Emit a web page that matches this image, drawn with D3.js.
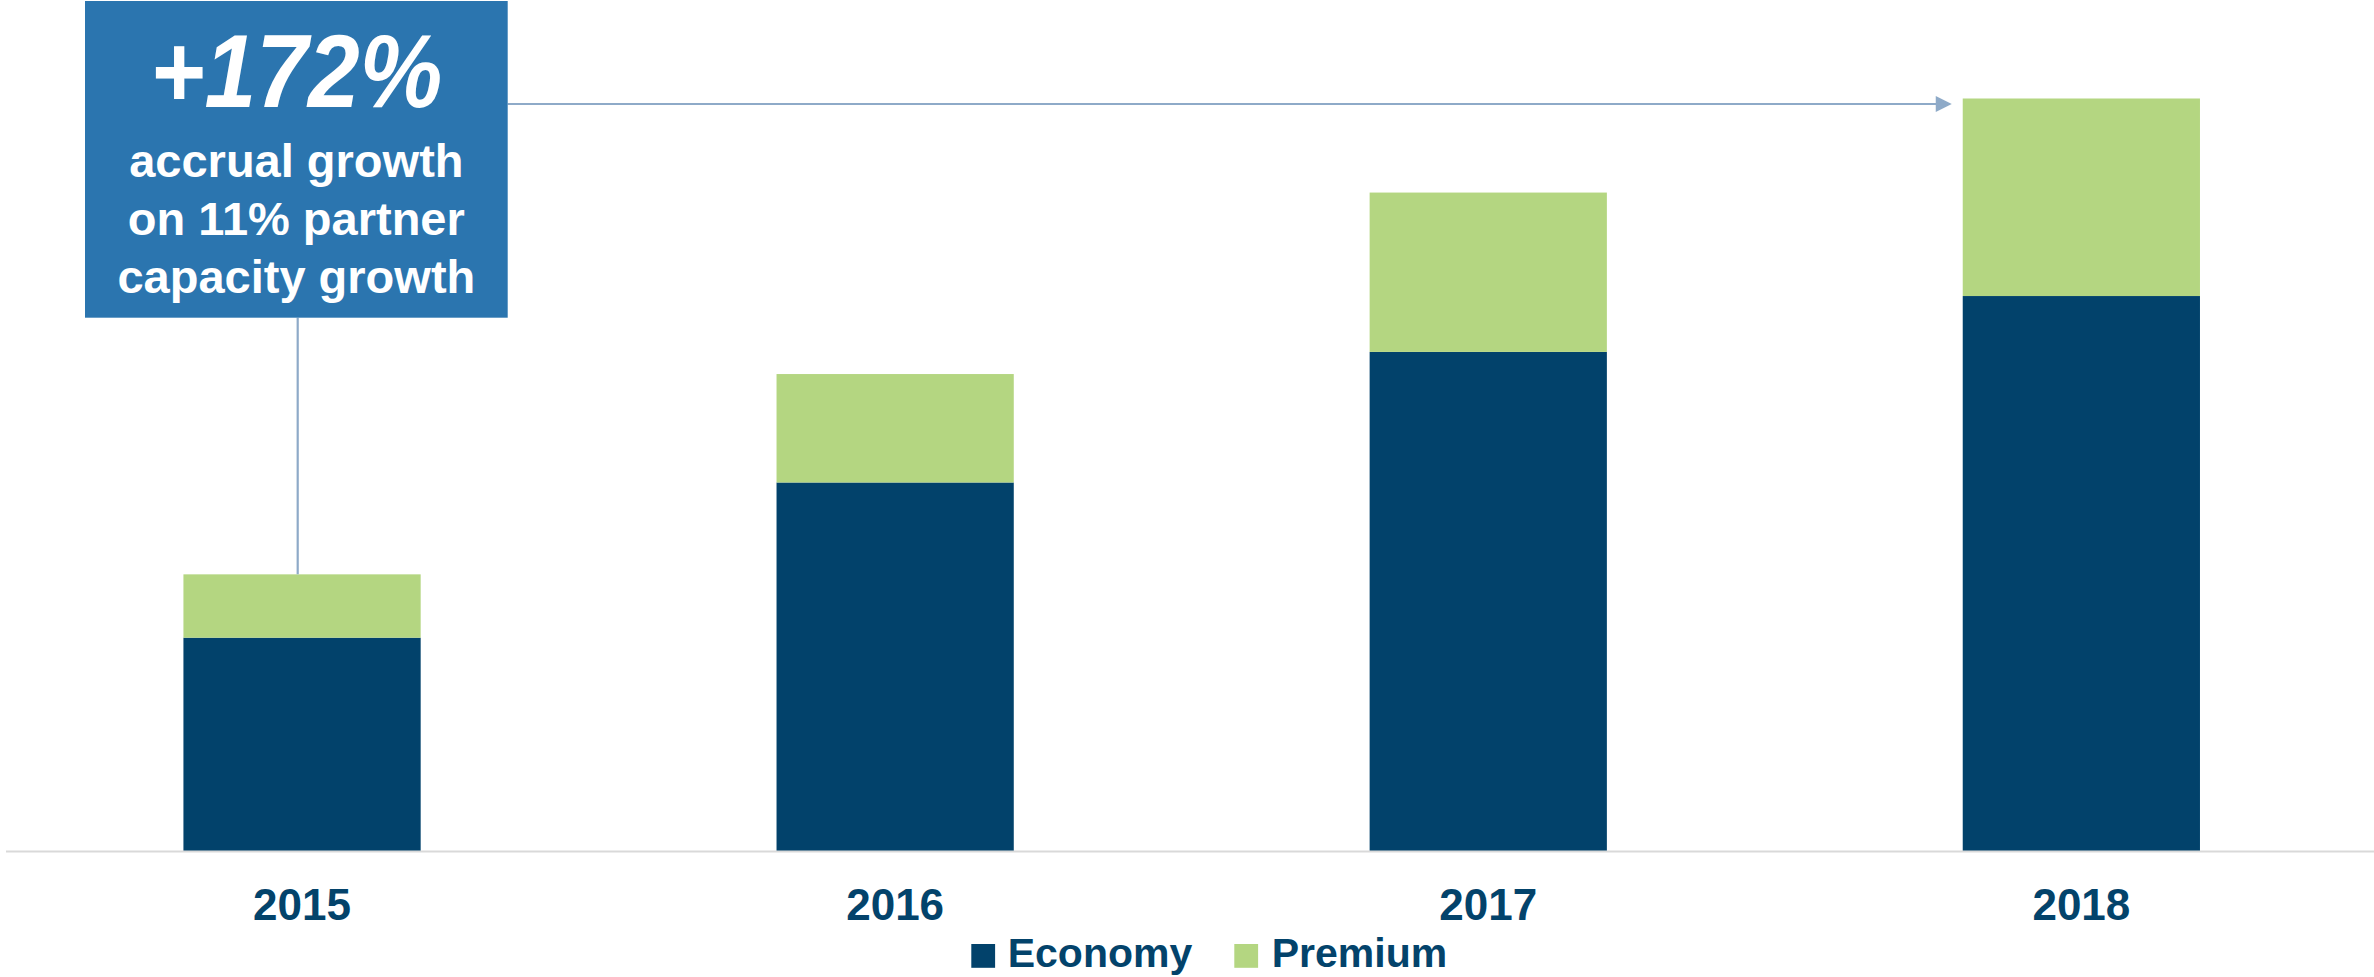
<!DOCTYPE html>
<html>
<head>
<meta charset="utf-8">
<script src="https://cdn.jsdelivr.net/npm/d3@7"></script>
<style>
  html, body { margin: 0; padding: 0; background: #ffffff; }
  svg { display: block; }
  text { font-family: "Liberation Sans", Arial, sans-serif; font-weight: 700; }
</style>
</head>
<body>
<svg id="chart" width="2374" height="977"></svg>
<script>
// Accruals by cabin, indexed to 2015 total = 100
const years = ["2015", "2016", "2017", "2018"];
const economy = [77.1, 133.2, 180.4, 200.6];
const premium = [22.9, 39.2, 57.6, 71.4];
const seriesNames = ["Economy", "Premium"];
const calloutLines = ["accrual growth", "on 11% partner", "capacity growth"];

const colors = { Economy: "#02426b", Premium: "#b4d681" };
const navy = "#03436b";
const calloutBlue = "#2b75af";
const guide = "#8eaac8";

const W = 2374, H = 977;
const baseY = 851;

const svg = d3.select("#chart");

const rows = years.map((yr, i) => ({ year: yr, Economy: economy[i], Premium: premium[i] }));
const totals = rows.map(r => r.Economy + r.Premium);

const x = d3.scaleBand()
  .domain(years)
  .range([5.5, 5.5 + 4 * 593.1])
  .paddingInner(0.6)
  .paddingOuter(0.3);

const y = d3.scaleLinear()
  .domain([0, d3.max(totals)])
  .range([baseY, 98.5]);

const stacked = d3.stack().keys(seriesNames)(rows);

// stacked bars
svg.append("g")
  .selectAll("g")
  .data(stacked)
  .join("g")
  .attr("fill", d => colors[d.key])
  .selectAll("rect")
  .data(d => d)
  .join("rect")
  .attr("x", d => x(d.data.year))
  .attr("width", x.bandwidth())
  .attr("y", d => y(d[1]))
  .attr("height", d => y(d[0]) - y(d[1]));

// baseline
svg.append("line")
  .attr("x1", 6).attr("x2", W)
  .attr("y1", baseY + 0.5).attr("y2", baseY + 0.5)
  .attr("stroke", "#d9d9d9")
  .attr("stroke-width", 2);

// category labels
const xAxis = d3.axisBottom(x).tickSize(0).tickPadding(0);
const axisG = svg.append("g")
  .attr("transform", `translate(0,${baseY})`)
  .call(xAxis);
axisG.select(".domain").remove();
axisG.selectAll("text")
  .attr("dy", null)
  .attr("y", 69)
  .attr("fill", navy)
  .style("font-size", "44px")
  .style("font-family", "'Liberation Sans', Arial, sans-serif")
  .style("font-weight", 700);

// callout: growth from first to last year
const growthPct = Math.round((totals[totals.length - 1] / totals[0] - 1) * 100);
const box = { x: 85, y: 1, w: 422.7, h: 316.7 };
const boxCx = box.x + box.w / 2;

// connector from callout down to the first bar
svg.append("line")
  .attr("x1", 297.7).attr("x2", 297.7)
  .attr("y1", box.y + box.h).attr("y2", y(totals[0]))
  .attr("stroke", guide)
  .attr("stroke-width", 2.2);

// arrow from callout to the last bar
const arrowY = 104;
const tipX = x(years[years.length - 1]) - 11;
svg.append("line")
  .attr("x1", box.x + box.w).attr("x2", tipX - 14)
  .attr("y1", arrowY).attr("y2", arrowY)
  .attr("stroke", guide)
  .attr("stroke-width", 2.2);
svg.append("path")
  .attr("d", `M${tipX - 16},${arrowY - 8} L${tipX},${arrowY} L${tipX - 16},${arrowY + 8} Z`)
  .attr("fill", guide);

svg.append("rect")
  .attr("x", box.x).attr("y", box.y)
  .attr("width", box.w).attr("height", box.h)
  .attr("fill", calloutBlue);

svg.append("text")
  .attr("x", boxCx)
  .attr("y", 106.7)
  .attr("text-anchor", "middle")
  .attr("fill", "#ffffff")
  .attr("textLength", 292)
  .attr("lengthAdjust", "spacingAndGlyphs")
  .style("font-size", "104px")
  .style("font-style", "italic")
  .text(`+${growthPct}%`);

svg.append("g")
  .selectAll("text")
  .data(calloutLines)
  .join("text")
  .attr("x", boxCx)
  .attr("y", (d, i) => 176.7 + i * 58.3)
  .attr("text-anchor", "middle")
  .attr("fill", "#ffffff")
  .style("font-size", "47px")
  .text(d => d);

// legend
const legendItems = [
  { name: seriesNames[0], sx: 971.3, tx: 1007.7 },
  { name: seriesNames[1], sx: 1234.3, tx: 1271.7 }
];
const lg = svg.append("g");
lg.selectAll("rect")
  .data(legendItems)
  .join("rect")
  .attr("x", d => d.sx)
  .attr("y", 944)
  .attr("width", 23.8)
  .attr("height", 23.8)
  .attr("fill", d => colors[d.name]);
lg.selectAll("text")
  .data(legendItems)
  .join("text")
  .attr("x", d => d.tx)
  .attr("y", 967.3)
  .attr("fill", navy)
  .style("font-size", "41px")
  .text(d => d.name);
</script>
</body>
</html>
